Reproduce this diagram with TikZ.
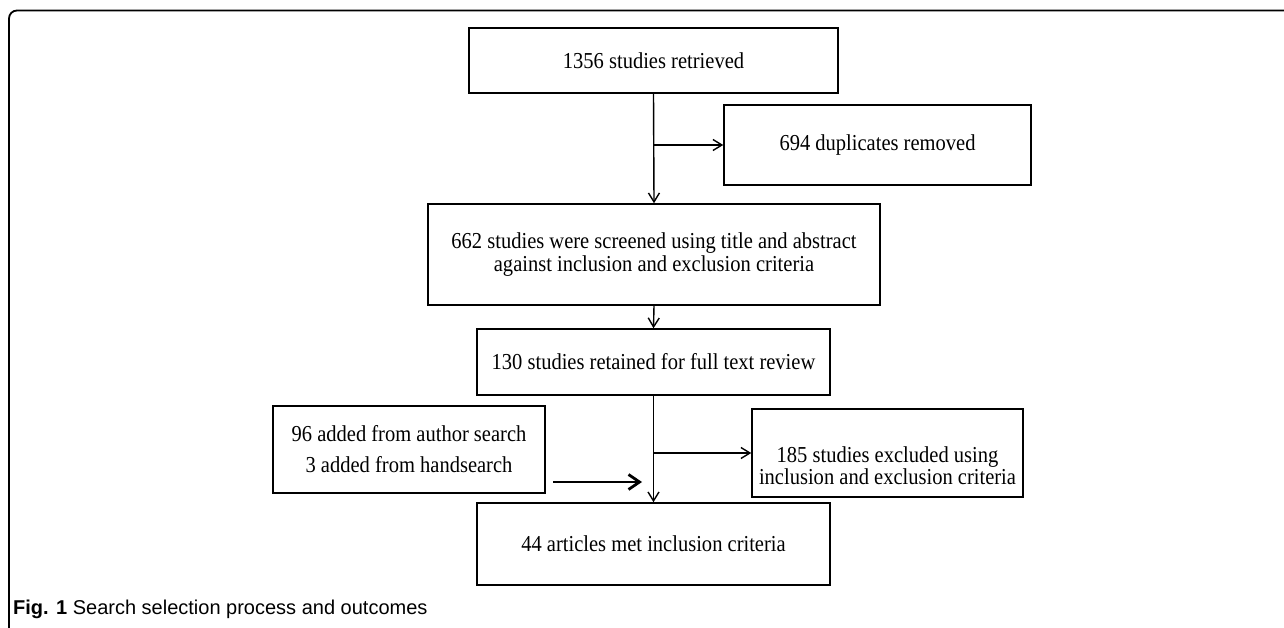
\documentclass[tikz,border=0pt]{standalone}
\usepackage{fontspec}
\setmainfont{Liberation Serif}[FakeStretch=0.9]
\setsansfont{Liberation Sans}
\usetikzlibrary{arrows.meta}
\tikzset{
  flowbox/.style={draw=black, line width=1.5pt, inner sep=0pt, align=center,
    font=\fontsize{22.8}{23}\selectfont},
  arr/.style={line width=1.4pt, -{Straight Barb[length=9pt,width=11pt,line width=1.4pt]}},
  thickarr/.style={line width=2.8pt, -{Straight Barb[length=11pt,width=15pt,line width=2.8pt]}},
  frameline/.style={line width=1.8pt, rounded corners=8pt},
}
\begin{document}
\begin{tikzpicture}[x=1pt,y=-1pt]
\useasboundingbox (0,0) rectangle (1284,628);
\draw[frameline] (9,628) -- (9,10.5) -- (1284,10.5);

\node[flowbox, minimum width=369pt, minimum height=65pt] (b1) at (653.5,60.5) {1356 studies retrieved};
\node[flowbox, minimum width=307pt, minimum height=80pt] (b2) at (877.5,145) {694 duplicates removed};
\node[flowbox, minimum width=452pt, minimum height=101pt] (b3) at (654,254.5)
  {662 studies were screened using title and abstract\\against inclusion and exclusion criteria};
\node[flowbox, minimum width=353pt, minimum height=66pt] (b4) at (653.5,362) {130 studies retained for full text review};
\node[flowbox, minimum width=272pt, minimum height=87pt] (b5) at (409,449.5)
  {96 added from author search\\[8pt]3 added from handsearch};
\node[flowbox, minimum width=271pt, minimum height=88pt] (b6) at (887.5,453) {};
\node[font=\fontsize{22.8}{18}\selectfont, align=center, inner sep=0pt] (b6t) at (887.5,466)
  {185 studies excluded using\\inclusion and exclusion criteria};
\node[flowbox, minimum width=353pt, minimum height=82pt] (b7) at (653.5,544) {44 articles met inclusion criteria};

\coordinate (j1) at (653.5,145);
\coordinate (j2) at (653.5,453);
\coordinate (t0) at (553,482);
\coordinate (t1) at (642,482);

\draw[arr] (b1.south) -- (b3.north);
\draw[arr] (j1) -- (b2.west);
\draw[arr] (b3.south) -- (b4.north);
\draw[arr] (b4.south) -- (b7.north);
\draw[arr] (j2) -- (b6.west);
\draw[thickarr] (t0) -- (t1);

\node[anchor=base west, inner sep=0pt, font=\sffamily\fontsize{20}{22}\selectfont] (cap) at (13,614)
  {\textbf{Fig. 1} Search selection process and outcomes};
\end{tikzpicture}
\end{document}
